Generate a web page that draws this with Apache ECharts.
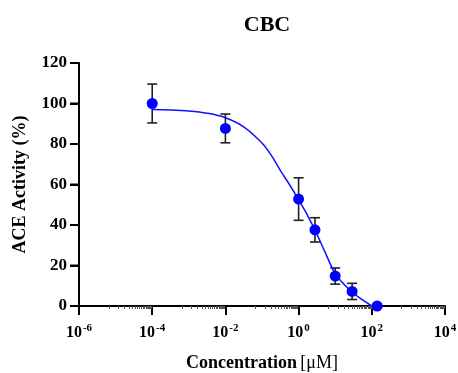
<!DOCTYPE html>
<html>
<head>
<meta charset="utf-8">
<script src="https://cdn.jsdelivr.net/npm/echarts@6/dist/echarts.min.js"></script>
<style>
  html, body { margin: 0; padding: 0; background: #fff; }
  #chart { width: 458px; height: 373px; }
</style>
</head>
<body>
<div id="chart"></div>
<script>
// Measured concentrations (µM), mean ACE activity (%) and error (±)
const concentrations = [1e-4, 1e-2, 1, 2.8, 10, 29, 140];
const activity = [100, 87.7, 52.8, 37.6, 14.8, 7.2, 0];
const errors = [9.6, 7.1, 10.5, 6, 4, 4, 0];

// Dose-response curve through the data
const curveX = [1e-4, 3.16e-4, 1e-3, 3.16e-3, 1e-2, 3.16e-2, 0.1, 0.178, 0.316, 0.562, 1, 1.78, 3.16, 5.62, 10, 17.8, 31.6, 56.2, 100];
const curveY = [97.0, 96.8, 96.3, 95.2, 93.0, 88.5, 80.5, 74.5, 67.0, 60.0, 52.5, 44.5, 35.5, 25.5, 16.0, 10.5, 6.3, 3.0, 0];

// Axis settings
const xMin = 1e-6, xMax = 1e4;
const yMin = 0, yMax = 120, yStep = 20;
const yTicks = [0, 20, 40, 60, 80, 100, 120];

const serif = '"Liberation Serif", "Times New Roman", serif';

const points = concentrations.map((c, i) => [c, activity[i]]);
const bars = concentrations.map((c, i) => [c, activity[i] - errors[i], activity[i] + errors[i]]);
const curve = curveX.map((x, i) => [x, curveY[i]]);

const chart = echarts.init(document.getElementById('chart'), null, { renderer: 'canvas' });

chart.setOption({
  backgroundColor: '#fff',
  animation: false,
  title: {
    text: 'CBC',
    left: 262,
    top: 9,
    textAlign: 'center',
    textStyle: { fontFamily: serif, fontWeight: 'bold', fontSize: 22, color: '#000' }
  },
  grid: { left: 79, right: 13, top: 63, bottom: 67, outerBoundsMode: 'none', containLabel: false },
  xAxis: {
    type: 'log',
    logBase: 10,
    min: xMin,
    max: xMax,
    interval: 2,
    name: '{b|Concentration} {n|[μM]}',
    nameLocation: 'middle',
    nameGap: 48,
    nameTextStyle: {
      rich: {
        b: { fontFamily: serif, fontWeight: 'bold', fontSize: 18, color: '#000' },
        n: { fontFamily: serif, fontWeight: 'normal', fontSize: 18, color: '#000' }
      }
    },
    axisLine: { show: true, onZero: false, lineStyle: { color: '#000', width: 2 } },
    axisTick: { show: true, inside: false, length: 9, lineStyle: { color: '#000', width: 2 } },
    minorTick: { show: true, splitNumber: 18, length: 3, lineStyle: { color: '#555', width: 1 } },
    splitLine: { show: false },
    axisLabel: {
      margin: 17,
      formatter: v => '{m|10}{s|' + Math.round(Math.log10(v)) + '}',
      rich: {
        m: { fontFamily: serif, fontWeight: 'bold', fontSize: 16, color: '#000', verticalAlign: 'bottom', lineHeight: 18 },
        s: { fontFamily: serif, fontWeight: 'bold', fontSize: 11, color: '#000', verticalAlign: 'top', lineHeight: 18, padding: [0, 0, 6, 1] }
      }
    }
  },
  yAxis: {
    type: 'value',
    position: 'left',
    min: yMin,
    max: yMax,
    interval: yStep,
    name: 'ACE Activity (%)',
    nameLocation: 'middle',
    nameGap: 50,
    nameRotate: 90,
    nameTextStyle: { fontFamily: serif, fontWeight: 'bold', fontSize: 18, color: '#000' },
    axisLine: { show: true, onZero: false, lineStyle: { color: '#000', width: 2 } },
    axisTick: { show: true, inside: false, length: 9, lineStyle: { color: '#000', width: 2 } },
    splitLine: { show: false },
    axisLabel: { margin: 12, fontFamily: serif, fontWeight: 'bold', fontSize: 17, color: '#000' }
  },
  series: [
    {
      // outward tick marks on the activity axis
      type: 'custom',
      name: 'yTicks',
      data: yTicks.map(v => [xMin, v]),
      z: 5,
      clip: false,
      silent: true,
      renderItem: (params, api) => {
        const p = api.coord([api.value(0), api.value(1)]);
        return {
          type: 'line',
          shape: { x1: p[0] - 9, y1: p[1], x2: p[0], y2: p[1] },
          style: { stroke: '#000', lineWidth: 2 }
        };
      }
    },
    {
      type: 'custom',
      name: 'error',
      data: bars,
      z: 2,
      clip: false,
      renderItem: (params, api) => {
        const x = api.value(0);
        const lo = api.coord([x, api.value(1)]);
        const hi = api.coord([x, api.value(2)]);
        if (Math.abs(hi[1] - lo[1]) < 1) return null;
        const cap = 5;
        const style = { stroke: '#222', lineWidth: 1.6 };
        return {
          type: 'group',
          children: [
            { type: 'line', shape: { x1: lo[0], y1: lo[1], x2: hi[0], y2: hi[1] }, style },
            { type: 'line', shape: { x1: lo[0] - cap, y1: lo[1], x2: lo[0] + cap, y2: lo[1] }, style },
            { type: 'line', shape: { x1: hi[0] - cap, y1: hi[1], x2: hi[0] + cap, y2: hi[1] }, style }
          ]
        };
      }
    },
    {
      type: 'line',
      name: 'fit',
      data: curve,
      smooth: 0.35,
      showSymbol: false,
      z: 3,
      lineStyle: { color: '#1010ff', width: 1.5 }
    },
    {
      type: 'scatter',
      name: 'ACE',
      data: points,
      symbol: 'circle',
      symbolSize: 11,
      z: 4,
      clip: false,
      itemStyle: { color: '#0000ff', opacity: 1 }
    }
  ]
});
</script>
</body>
</html>
